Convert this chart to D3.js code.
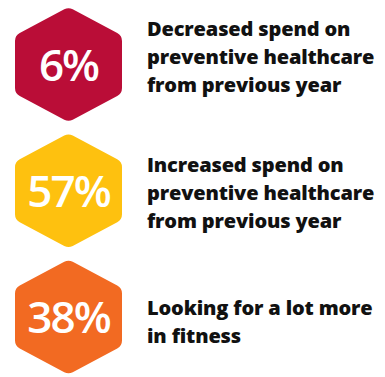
<!DOCTYPE html>
<html>
<head>
<meta charset="utf-8">
<script src="https://cdn.jsdelivr.net/npm/d3@7"></script>
<style>
  html, body { margin: 0; padding: 0; background: #fff; }
  svg { display: block; }
</style>
</head>
<body>
<svg id="chart" width="385" height="377"></svg>
<script>
// Survey shares, one hexagon badge per statement
const values = [6, 57, 38];
const labels = [
  ["Decreased spend on", "preventive healthcare", "from previous year"],
  ["Increased spend on", "preventive healthcare", "from previous year"],
  ["Looking for a lot more", "in fitness"]
];
const colors = ["#BA0D37", "#FEC10F", "#F26A22"];

const svg = d3.select("#chart");

// vertical placement of the three badges
const y = d3.scalePoint()
  .domain(d3.range(values.length))
  .range([64.5, 317]);

const cx = 68.5;      // badge centre x
const halfW = 53.5;   // half width of hexagon
const halfH = 57.5;   // centre to top vertex
const shoulder = 29;  // centre to upper/lower side vertices
const cornerR = 9;

function hexPath(cy) {
  const pts = [
    [cx, cy - halfH],
    [cx + halfW, cy - shoulder],
    [cx + halfW, cy + shoulder],
    [cx, cy + halfH],
    [cx - halfW, cy + shoulder],
    [cx - halfW, cy - shoulder]
  ];
  const p = d3.path();
  const n = pts.length;
  const mid = (a, b) => [(a[0] + b[0]) / 2, (a[1] + b[1]) / 2];
  const start = mid(pts[n - 1], pts[0]);
  p.moveTo(start[0], start[1]);
  for (let i = 0; i < n; i++) {
    const v = pts[i];
    const next = mid(pts[i], pts[(i + 1) % n]);
    p.arcTo(v[0], v[1], next[0], next[1], cornerR);
  }
  p.closePath();
  return p.toString();
}

const items = values.map((v, i) => ({ value: v, lines: labels[i], color: colors[i], i }));

const g = svg.selectAll("g.item")
  .data(items)
  .enter().append("g")
  .attr("class", "item");

g.append("path")
  .attr("d", d => hexPath(y(d.i)))
  .attr("fill", d => d.color);

g.append("text")
  .attr("x", cx)
  .attr("y", d => y(d.i) + 16)
  .attr("text-anchor", "middle")
  .attr("fill", "#fff")
  .style("font-family", "'Open Sans', sans-serif")
  .style("font-weight", 600)
  .style("font-size", "44px")
  .style("letter-spacing", "-2px")
  .text(d => d.value + "%");

// statement text to the right of each badge
const lineGap = 28;
const nudge = [-8, 2, 4];
g.each(function (d) {
  const n = d.lines.length;
  const capH = 15;
  const blockH = capH + (n - 1) * lineGap;
  const first = y(d.i) - blockH / 2 + capH + nudge[d.i];
  const t = d3.select(this).append("text")
    .attr("fill", "#111")
    .style("font-family", "'Open Sans', sans-serif")
    .style("font-weight", 800)
    .style("font-size", "20px")
    .style("letter-spacing", "-0.15px");
  t.selectAll("tspan")
    .data(d.lines)
    .enter().append("tspan")
    .attr("x", 147)
    .attr("y", (l, k) => first + k * lineGap)
    .text(l => l);
});
</script>
</body>
</html>
